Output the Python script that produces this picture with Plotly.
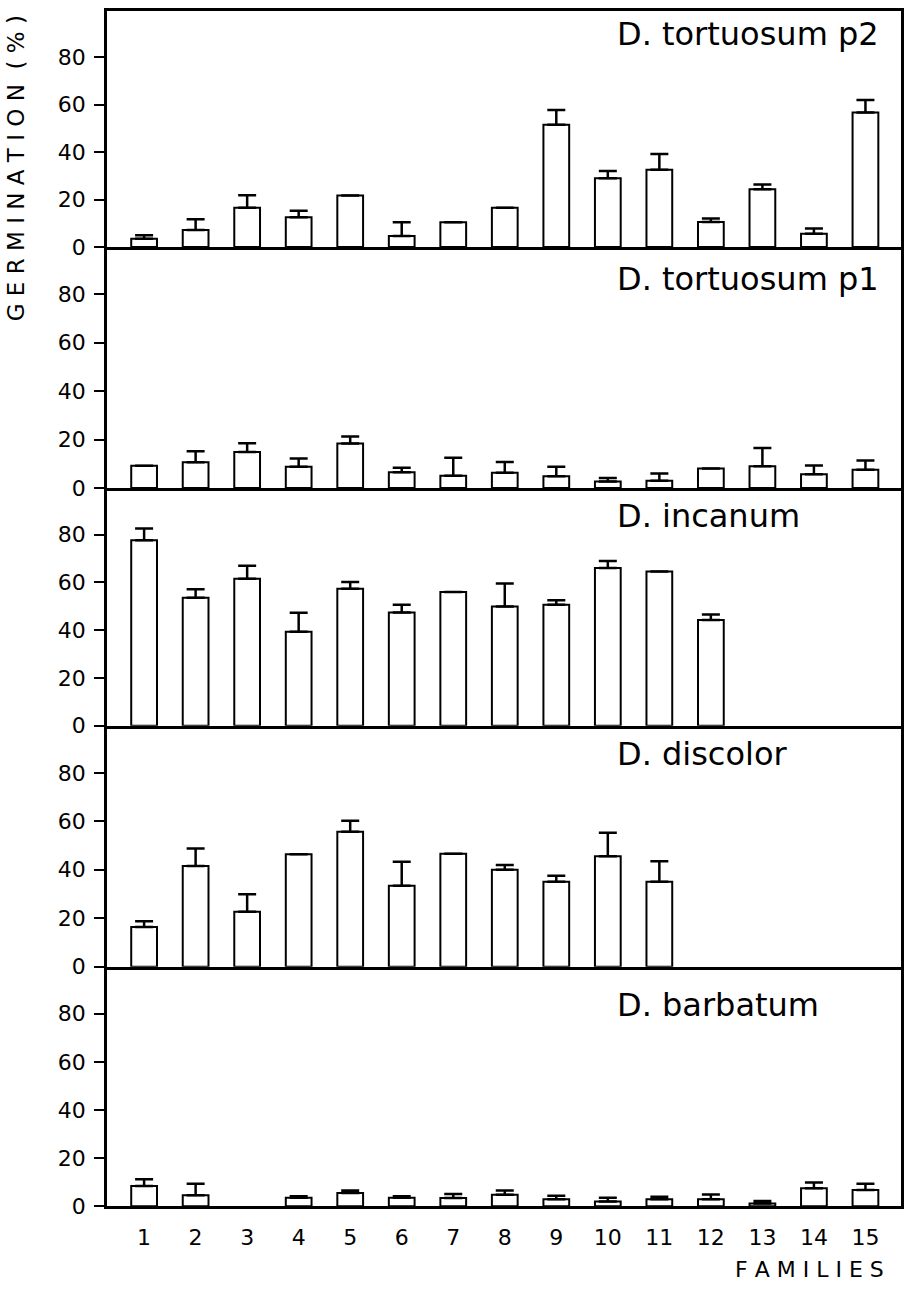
import plotly.graph_objects as go

# ---------------- data ----------------
families = list(range(1, 16))
family_labels = [str(i) for i in families]

panel_names = ["D. tortuosum p2", "D. tortuosum p1", "D. incanum", "D. discolor", "D. barbatum"]

tortuosum_p2 = [3.5, 7.2, 16.5, 12.5, 21.7, 4.6, 10.4, 16.5, 51.5, 29.0, 32.6, 10.5, 24.3, 5.6, 56.7]
tortuosum_p2_err = [1.5, 4.5, 5.3, 2.8, 0, 5.8, 0, 0, 6.2, 3.0, 6.6, 1.5, 2.0, 2.2, 5.2]

tortuosum_p1 = [9.2, 10.7, 14.9, 8.8, 18.4, 6.5, 5.1, 6.3, 4.9, 2.7, 3.0, 8.1, 9.0, 5.7, 7.6]
tortuosum_p1_err = [0, 4.5, 3.6, 3.4, 2.9, 1.9, 7.4, 4.5, 3.9, 1.5, 3.0, 0, 7.5, 3.6, 3.8]

incanum = [77.6, 53.6, 61.5, 39.3, 57.3, 47.4, 56.0, 49.9, 50.6, 66.0, 64.5, 44.2, None, None, None]
incanum_err = [5.0, 3.5, 5.5, 8.0, 2.9, 3.2, 0, 9.6, 1.9, 2.9, 0, 2.3, 0, 0, 0]

discolor = [16.4, 41.6, 22.7, 46.4, 55.7, 33.4, 46.6, 40.0, 35.1, 45.6, 35.1, None, None, None, None]
discolor_err = [2.4, 7.2, 7.2, 0, 4.5, 9.9, 0, 2.0, 2.4, 9.7, 8.4, 0, 0, 0, 0]

barbatum = [8.4, 4.6, None, 3.5, 5.5, 3.5, 3.4, 4.8, 2.9, 2.0, 2.9, 2.9, 1.1, 7.5, 6.8]
barbatum_err = [2.8, 4.8, 0, 0.7, 1.0, 0.7, 1.7, 1.7, 1.5, 1.5, 1.1, 2.0, 1.1, 2.4, 2.6]

y_ticks = [0, 20, 40, 60, 80]

# ---------------- layout geometry ----------------
W, H = 911, 1295
FONT = "DejaVu Sans"
x_left, x_right = 107, 901
panel_px = [(11, 249.5), (249.5, 493), (493, 733), (733, 976.5), (976.5, 1218.5)]

values = [tortuosum_p2, tortuosum_p1, incanum, discolor, barbatum]
errors = [tortuosum_p2_err, tortuosum_p1_err, incanum_err, discolor_err, barbatum_err]
label_y_px = [34, 282, 521.5, 761.5, 1015]

fig = go.Figure()
layout = dict(
    width=W, height=H, autosize=False,
    margin=dict(l=0, r=0, t=0, b=0),
    paper_bgcolor="white", plot_bgcolor="white",
    showlegend=False,
    font=dict(family=FONT, color="black"),
)

annotations = []
for i in range(5):
    n = i + 1
    xa = "x" if n == 1 else f"x{n}"
    ya = "y" if n == 1 else f"y{n}"
    fig.add_trace(go.Bar(
        x=families, y=values[i], width=0.5,
        marker=dict(color="white", line=dict(color="black", width=2)),
        error_y=dict(type="data", symmetric=False, array=errors[i],
                     arrayminus=[0] * len(families),
                     color="black", thickness=2.5, width=9),
        xaxis=xa, yaxis=ya, showlegend=False, hoverinfo="x+y",
    ))
    top, bot = panel_px[i]
    xkey = "xaxis" if n == 1 else f"xaxis{n}"
    ykey = "yaxis" if n == 1 else f"yaxis{n}"
    layout[xkey] = dict(
        domain=[x_left / W, x_right / W], anchor=ya,
        range=[0.28, 15.69], showgrid=False, zeroline=False,
        showline=True, linecolor="black", linewidth=2.5, mirror=(n == 1),
        ticks="", tickvals=families, ticktext=family_labels,
        showticklabels=(n == 5), tickfont=dict(size=22, family=FONT, color="black"),
        ticklabelstandoff=10,
    )
    layout[ykey] = dict(
        domain=[1 - bot / H, 1 - top / H], anchor=xa,
        range=[0, 99.5], showgrid=False, zeroline=False,
        showline=True, linecolor="black", linewidth=2.5, mirror=True,
        ticks="outside", ticklen=10, tickwidth=2, tickcolor="black",
        tickvals=y_ticks, tickfont=dict(size=22, family=FONT, color="black"),
        ticklabelstandoff=4,
    )
    annotations.append(dict(
        text=panel_names[i], xref="paper", yref="paper",
        x=615 / W, y=1 - label_y_px[i] / H, xanchor="left", yanchor="middle",
        showarrow=False, font=dict(size=32, family=FONT, color="black"),
    ))

annotations.append(dict(
    text="G E R M I N A T I O N  ( % )", xref="paper", yref="paper",
    x=16 / W, y=1 - 170 / H, xanchor="center", yanchor="middle", textangle=-90,
    showarrow=False, font=dict(size=23, family=FONT, color="black"),
))
annotations.append(dict(
    text="F A M I L I E S", xref="paper", yref="paper",
    x=809 / W, y=1 - 1282 / H, xanchor="center", yanchor="middle",
    showarrow=False, font=dict(size=22, family=FONT, color="black"),
))
layout["annotations"] = annotations

fig.update_layout(**layout)
fig.write_html(
    "out.html",
    config={"displayModeBar": False},
    post_script="document.body.style.margin='0';document.documentElement.style.overflow='hidden';",
)
